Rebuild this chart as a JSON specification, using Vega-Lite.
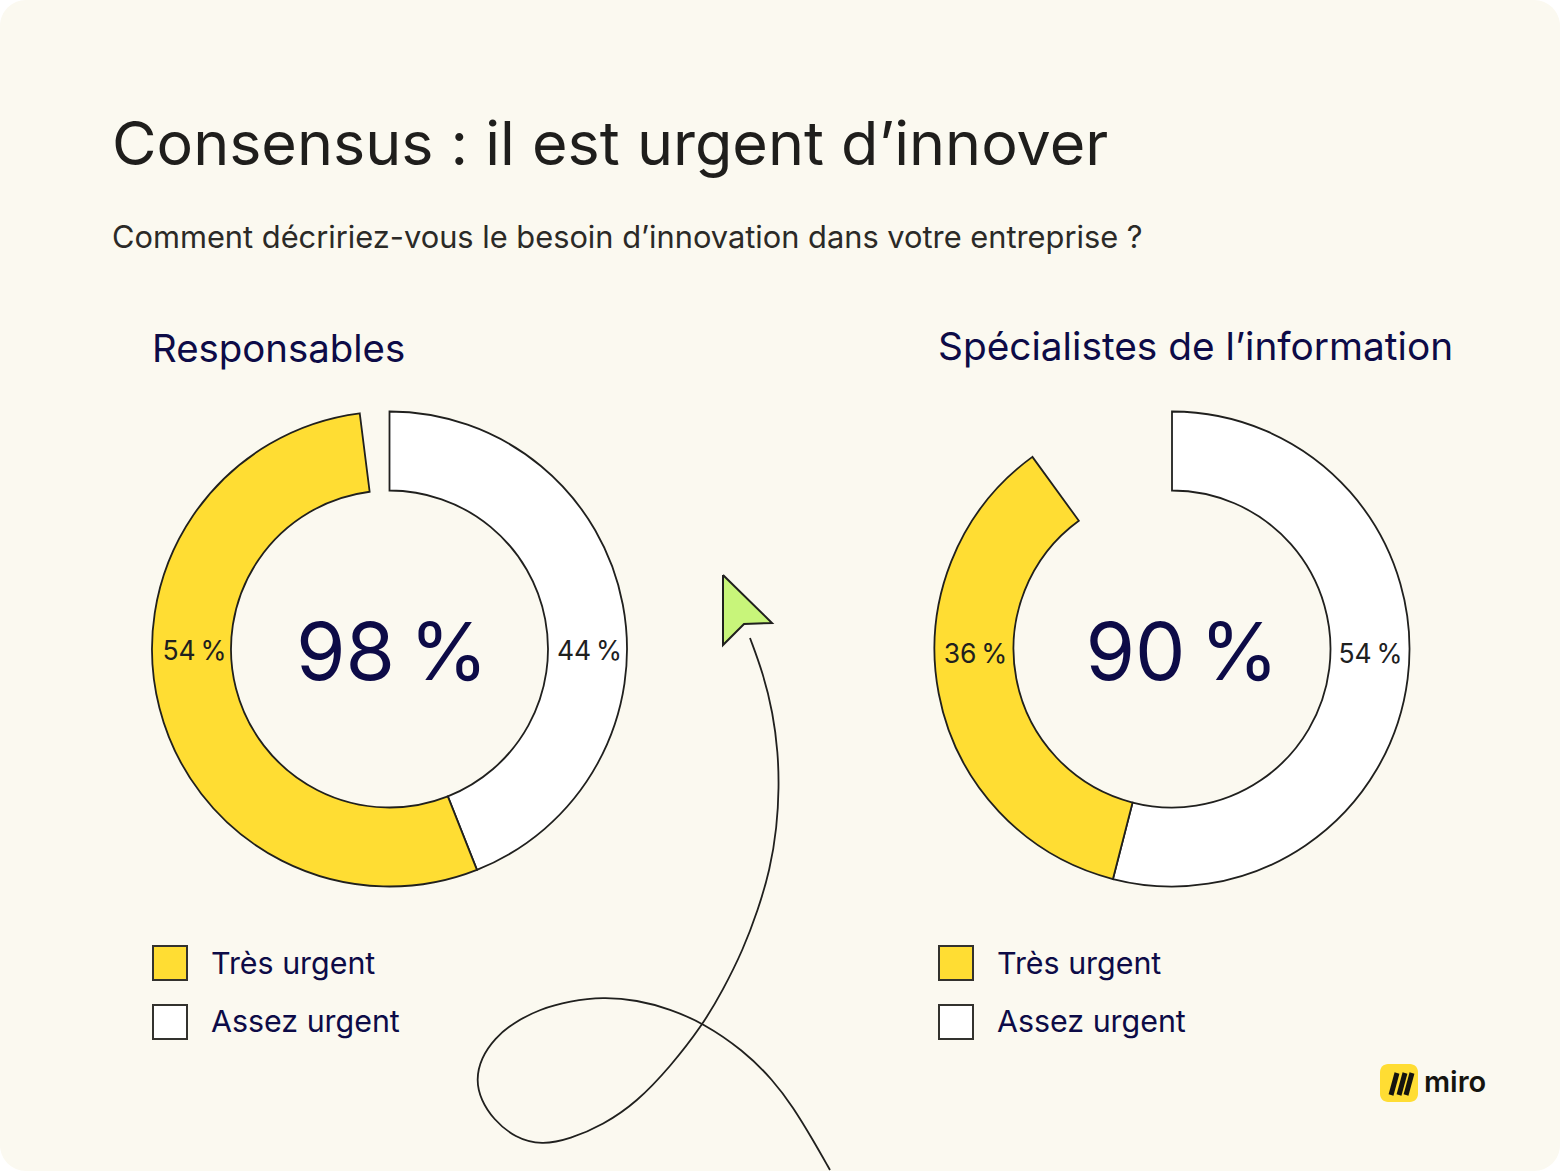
{
"$schema":"https://vega.github.io/schema/vega-lite/v6.json",
"width":1560,"height":1171,"padding":0,"autosize":{"type":"none"},
"background":"#ffffff",
"config":{"view":{"stroke":null},"axis":{"disable":true},"text":{"font":"Inter"}},
"datasets":{
"responses":[
{"chart":"Responsables","category":"Assez urgent","value":44},
{"chart":"Responsables","category":"Très urgent","value":54},
{"chart":"Spécialistes","category":"Assez urgent","value":54},
{"chart":"Spécialistes","category":"Très urgent","value":36}],
"curve":[
{"s":1,"px":750,"py":638},{"s":2,"px":763,"py":673},{"s":3,"px":773,"py":713},{"s":4,"px":778,"py":753},{"s":5,"px":779,"py":787},{"s":6,"px":777,"py":827},{"s":7,"px":770,"py":870},{"s":8,"px":758,"py":910},{"s":9,"px":743,"py":950},{"s":10,"px":723,"py":990},{"s":11,"px":702,"py":1026},{"s":12,"px":670,"py":1067},{"s":13,"px":637,"py":1102},{"s":14,"px":603,"py":1125},{"s":15,"px":570,"py":1139},{"s":16,"px":542,"py":1145},{"s":17,"px":515,"py":1138},{"s":18,"px":493,"py":1119},{"s":19,"px":481,"py":1100},{"s":20,"px":476,"py":1080},{"s":21,"px":481,"py":1058},{"s":22,"px":495,"py":1038},{"s":23,"px":513,"py":1023},{"s":24,"px":540,"py":1009},{"s":25,"px":570,"py":1001},{"s":26,"px":603,"py":997},{"s":27,"px":637,"py":1000},{"s":28,"px":670,"py":1009},{"s":29,"px":703,"py":1023},{"s":30,"px":743,"py":1050},{"s":31,"px":773,"py":1080},{"s":32,"px":793,"py":1107},{"s":33,"px":813,"py":1140},{"s":34,"px":830,"py":1170}],
"cursor":[{"s":1,"px":723,"py":575},{"s":2,"px":772,"py":623},{"s":3,"px":744,"py":624},{"s":4,"px":723,"py":645},{"s":5,"px":723,"py":575}],
"stripes":[{"a":1397,"b":1073,"c":1391,"d":1095},{"a":1405,"b":1073,"c":1399,"d":1095},{"a":1412,"b":1073,"c":1406,"d":1095}]
},
"data":{"name":"responses"},
"layer":[
{"data":{"values":[{}]},"mark":{"type":"rect","fill":"#FBF9F0","cornerRadius":26},
 "encoding":{"x":{"datum":0,"type":"quantitative","scale":{"domain":[0,1560],"nice":false,"zero":false}},"x2":{"datum":1560},"y":{"datum":0,"type":"quantitative","scale":{"domain":[0,1171],"reverse":true,"nice":false,"zero":false}},"y2":{"datum":1171}}},
{"transform":[{"filter":"datum.chart=='Responsables'"}],"mark":{"type":"arc","outerRadius":237.5,"innerRadius":158.5,"stroke":"#20201E","strokeWidth":1.8},
 "encoding":{"x":{"datum":389.5,"type":"quantitative"},"y":{"datum":649,"type":"quantitative"},"theta":{"field":"value","type":"quantitative","stack":true,"scale":{"domain":[0,100]}},"order":{"field":"category"},"color":{"field":"category","type":"nominal","legend":null,"scale":{"domain":["Très urgent","Assez urgent"],"range":["#FFDD33","#FFFFFF"]}}}},
{"transform":[{"filter":"datum.chart=='Spécialistes'"}],"mark":{"type":"arc","outerRadius":237.5,"innerRadius":158.5,"stroke":"#20201E","strokeWidth":1.8},
 "encoding":{"x":{"datum":1172,"type":"quantitative"},"y":{"datum":649,"type":"quantitative"},"theta":{"field":"value","type":"quantitative","stack":true,"scale":{"domain":[0,100]}},"order":{"field":"category"},"color":{"field":"category","type":"nominal","legend":null}}},
{"data":{"name":"curve"},"mark":{"type":"line","interpolate":"basis","stroke":"#20201E","strokeWidth":1.8},
 "encoding":{"x":{"field":"px","type":"quantitative"},"y":{"field":"py","type":"quantitative"},"order":{"field":"s"}}},
{"data":{"name":"cursor"},"mark":{"type":"line","stroke":"#20201E","strokeWidth":2,"fill":"#C8F57A","strokeJoin":"miter"},
 "encoding":{"x":{"field":"px","type":"quantitative"},"y":{"field":"py","type":"quantitative"},"order":{"field":"s"}}},
{"data":{"values":[{"category":"Très urgent","l":153,"t":946,"r":187,"bt":980},{"category":"Assez urgent","l":153,"t":1005,"r":187,"bt":1039},{"category":"Très urgent","l":939,"t":946,"r":973,"bt":980},{"category":"Assez urgent","l":939,"t":1005,"r":973,"bt":1039}]},
 "mark":{"type":"rect","stroke":"#33322E","strokeWidth":2},
 "encoding":{"x":{"field":"l","type":"quantitative"},"x2":{"field":"r"},"y":{"field":"t","type":"quantitative"},"y2":{"field":"bt"},"color":{"field":"category","type":"nominal","legend":null}}},
{"data":{"values":[{}]},"mark":{"type":"rect","fill":"#FFDD33","cornerRadius":8},
 "encoding":{"x":{"datum":1380,"type":"quantitative"},"x2":{"datum":1418},"y":{"datum":1064,"type":"quantitative"},"y2":{"datum":1102}}},
{"data":{"name":"stripes"},"mark":{"type":"rule","stroke":"#15140F","strokeWidth":5},
 "encoding":{"x":{"field":"a","type":"quantitative"},"y":{"field":"b","type":"quantitative"},"x2":{"field":"c"},"y2":{"field":"d"}}},
{"data":{"values":[{"t":"Consensus : il est urgent d’innover"}]},"mark":{"type":"text","align":"left","baseline":"alphabetic","fontSize":61,"fill":"#1F1E1C"},"encoding":{"text":{"field":"t"},"x":{"datum":112,"type":"quantitative"},"y":{"datum":165,"type":"quantitative"}}},
{"data":{"values":[{"t":"Comment décririez-vous le besoin d’innovation dans votre entreprise ?"}]},"mark":{"type":"text","align":"left","baseline":"alphabetic","fontSize":30.8,"fill":"#2B2A27"},"encoding":{"text":{"field":"t"},"x":{"datum":112,"type":"quantitative"},"y":{"datum":248,"type":"quantitative"}}},
{"data":{"values":[{"t":"Responsables"}]},"mark":{"type":"text","align":"left","baseline":"alphabetic","fontSize":38.4,"fill":"#0D0B47"},"encoding":{"text":{"field":"t"},"x":{"datum":152,"type":"quantitative"},"y":{"datum":362,"type":"quantitative"}}},
{"data":{"values":[{"t":"Spécialistes de l’information"}]},"mark":{"type":"text","align":"left","baseline":"alphabetic","fontSize":38.8,"fill":"#0D0B47"},"encoding":{"text":{"field":"t"},"x":{"datum":938,"type":"quantitative"},"y":{"datum":360,"type":"quantitative"}}},
{"data":{"values":[{"t":"98\u2009%"}]},"mark":{"type":"text","align":"center","baseline":"alphabetic","fontSize":80,"fill":"#0D0B47"},"encoding":{"text":{"field":"t"},"x":{"datum":392,"type":"quantitative"},"y":{"datum":680,"type":"quantitative"}}},
{"data":{"values":[{"t":"90\u2009%"}]},"mark":{"type":"text","align":"center","baseline":"alphabetic","fontSize":80,"fill":"#0D0B47"},"encoding":{"text":{"field":"t"},"x":{"datum":1182,"type":"quantitative"},"y":{"datum":680,"type":"quantitative"}}},
{"data":{"values":[{"t":"54\u2009%"}]},"mark":{"type":"text","align":"center","baseline":"alphabetic","fontSize":26.5,"fill":"#20201E"},"encoding":{"text":{"field":"t"},"x":{"datum":194.5,"type":"quantitative"},"y":{"datum":660,"type":"quantitative"}}},
{"data":{"values":[{"t":"44\u2009%"}]},"mark":{"type":"text","align":"center","baseline":"alphabetic","fontSize":26.5,"fill":"#20201E"},"encoding":{"text":{"field":"t"},"x":{"datum":589.5,"type":"quantitative"},"y":{"datum":660,"type":"quantitative"}}},
{"data":{"values":[{"t":"36\u2009%"}]},"mark":{"type":"text","align":"center","baseline":"alphabetic","fontSize":26.5,"fill":"#20201E"},"encoding":{"text":{"field":"t"},"x":{"datum":975.5,"type":"quantitative"},"y":{"datum":663,"type":"quantitative"}}},
{"data":{"values":[{"t":"54\u2009%"}]},"mark":{"type":"text","align":"center","baseline":"alphabetic","fontSize":26.5,"fill":"#20201E"},"encoding":{"text":{"field":"t"},"x":{"datum":1370.5,"type":"quantitative"},"y":{"datum":663,"type":"quantitative"}}},
{"data":{"values":[{"t":"Très urgent"}]},"mark":{"type":"text","align":"left","baseline":"alphabetic","fontSize":30.4,"fill":"#0D0B47"},"encoding":{"text":{"field":"t"},"x":{"datum":211,"type":"quantitative"},"y":{"datum":974,"type":"quantitative"}}},
{"data":{"values":[{"t":"Assez urgent"}]},"mark":{"type":"text","align":"left","baseline":"alphabetic","fontSize":30.4,"fill":"#0D0B47"},"encoding":{"text":{"field":"t"},"x":{"datum":211,"type":"quantitative"},"y":{"datum":1032,"type":"quantitative"}}},
{"data":{"values":[{"t":"Très urgent"}]},"mark":{"type":"text","align":"left","baseline":"alphabetic","fontSize":30.4,"fill":"#0D0B47"},"encoding":{"text":{"field":"t"},"x":{"datum":997,"type":"quantitative"},"y":{"datum":974,"type":"quantitative"}}},
{"data":{"values":[{"t":"Assez urgent"}]},"mark":{"type":"text","align":"left","baseline":"alphabetic","fontSize":30.4,"fill":"#0D0B47"},"encoding":{"text":{"field":"t"},"x":{"datum":997,"type":"quantitative"},"y":{"datum":1032,"type":"quantitative"}}},
{"data":{"values":[{"t":"miro"}]},"mark":{"type":"text","align":"left","baseline":"alphabetic","fontSize":29,"fontWeight":600,"fill":"#15140F"},"encoding":{"text":{"field":"t"},"x":{"datum":1424,"type":"quantitative"},"y":{"datum":1092,"type":"quantitative"}}}
]
}
